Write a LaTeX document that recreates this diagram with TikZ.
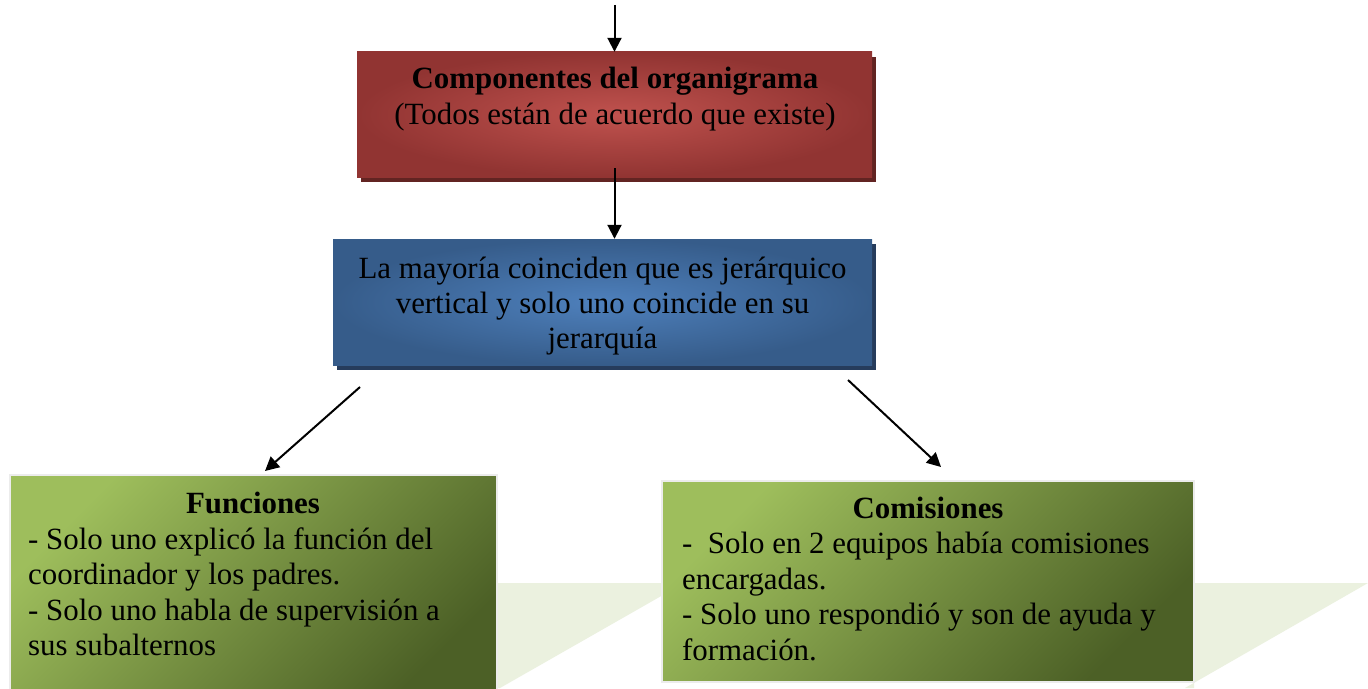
\documentclass[tikz,border=0pt]{standalone}
\usepackage{fontspec}
\setmainfont{Liberation Serif}
\usetikzlibrary{arrows.meta,shadows}
\definecolor{redin}{RGB}{192,82,78}
\definecolor{redout}{RGB}{145,52,50}
\definecolor{redsh}{RGB}{98,36,34}
\definecolor{bluein}{RGB}{78,128,188}
\definecolor{blueout}{RGB}{54,92,138}
\definecolor{bluesh}{RGB}{38,60,92}
\definecolor{greenlt}{RGB}{158,190,92}
\definecolor{greendk}{RGB}{76,96,38}
\definecolor{greenbd}{RGB}{236,236,236}
\definecolor{palegreen}{RGB}{235,241,223}
\tikzset{
  box/.style={rectangle, inner sep=0pt},
  redbox/.style={box, inner color=redin, outer color=redout,
    drop shadow={shadow xshift=4bp, shadow yshift=-5bp, fill=redsh, opacity=1}},
  bluebox/.style={box, inner color=bluein, outer color=blueout,
    drop shadow={shadow xshift=4bp, shadow yshift=-5bp, fill=bluesh, opacity=1}},
  greenbox/.style={box, draw=greenbd, line width=1.5bp, shading=axis,
    top color=greenlt, bottom color=greendk, shading angle=45},
  txt/.style={inner sep=0pt, anchor=base, font=\fontsize{31}{35}\selectfont},
  txtl/.style={txt, anchor=base west},
  arr/.style={line width=2bp, -{Triangle[length=14bp,width=14bp]}},
}
\begin{document}
\begin{tikzpicture}[x=1bp,y=-1bp]
\clip (0,0) rectangle (1368,688);
\fill[white] (0,0) rectangle (1368,688);
% pale perspective shadows
\fill[palegreen] (497,583) -- (684,583) -- (500,688) -- (497,688) -- cycle;
\fill[palegreen] (1194,583) -- (1368,583) -- (1185,688) -- (1194,688) -- cycle;

% boxes
\node[redbox, minimum width=515bp, minimum height=125bp] (comp) at (614.5,114.5) {};
\node[bluebox, minimum width=539bp, minimum height=126bp] (may) at (602.5,302) {};
\node[greenbox, minimum width=487bp, minimum height=225bp] (fun) at (253.5,587.5) {};
\node[greenbox, minimum width=532bp, minimum height=201bp] (com) at (928,581.5) {};

% texts
\node[txt] (c1) at (615,89) {\bfseries Componentes del organigrama};
\node[txt] (c2) at (615,124.5) {(Todos están de acuerdo que existe)};

\node[txt] (m1) at (602.5,278) {La mayoría coinciden que es jerárquico};
\node[txt] (m2) at (602.5,313) {vertical y solo uno coincide en su};
\node[txt] (m3) at (602.5,348) {jerarquía};

\node[txt] (f0) at (253,513) {\bfseries Funciones};
\node[txtl] (f1) at (28,549) {- Solo uno explicó la función del};
\node[txtl] (f2) at (28,584) {coordinador y los padres.};
\node[txtl] (f3) at (28,620) {- Solo uno habla de supervisión a};
\node[txtl] (f4) at (28,655) {sus subalternos};

\node[txt] (k0) at (928,518) {\bfseries Comisiones};
\node[txtl] (k1) at (682,553.5) {-\ \ Solo en 2 equipos había comisiones};
\node[txtl] (k2) at (682,589) {encargadas.};
\node[txtl] (k3) at (682,624.5) {- Solo uno respondió y son de ayuda y};
\node[txtl] (k4) at (682,660) {formación.};

% connectors
\coordinate (top) at (614.5,5);
\coordinate (la) at (360,387);
\coordinate (lb) at (265,471);
\coordinate (ra) at (848,380);
\coordinate (rb) at (941,467);
\draw[arr] (top) -- (comp.north);
\draw[arr] ([yshift=9bp]comp.south) -- (comp.south |- may.north);
\draw[arr] (la) -- (lb);
\draw[arr] (ra) -- (rb);
\end{tikzpicture}
\end{document}
